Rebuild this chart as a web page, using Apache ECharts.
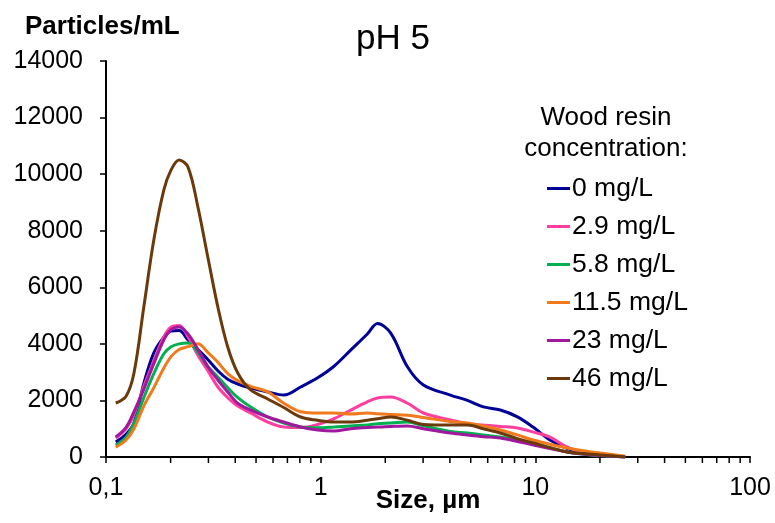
<!DOCTYPE html>
<html>
<head>
<meta charset="utf-8">
<script src="https://cdn.jsdelivr.net/npm/echarts@6/dist/echarts.min.js"></script>
<style>
  html, body { margin: 0; padding: 0; background: #fff; }
  #chart { width: 775px; height: 523px; }
</style>
</head>
<body>
<div id="chart"></div>
<script>
// Particle size distribution, pH 5, for increasing wood resin dosage
const sizes = [0.111, 0.124, 0.135, 0.150, 0.167, 0.186, 0.201, 0.219, 0.241, 0.268,
  0.298, 0.332, 0.369, 0.411, 0.472, 0.567, 0.673, 0.807, 0.968, 1.15,
  1.38, 1.65, 1.84, 2.12, 2.54, 3.01, 4.02, 4.83, 5.73, 6.87,
  8.25, 9.79, 11.7, 14.1, 16.7, 20.1, 26.2];

const conc0 = [530, 800, 1200, 2600, 3680, 4240, 4450, 4470, 4140, 3800,
  3450, 3050, 2750, 2580, 2440, 2300, 2190, 2475, 2800, 3200,
  3780, 4350, 4720, 4380, 3180, 2545, 2190, 2000, 1770, 1660,
  1420, 1050, 600, 300, 150, 60, 0];
const conc2_9 = [670, 1000, 1500, 2500, 3400, 4250, 4600, 4650, 4250, 3600,
  3050, 2475, 2100, 1800, 1555, 1237, 1060, 1040, 1150, 1350,
  1660, 1950, 2085, 2120, 1900, 1555, 1310, 1180, 1130, 1080,
  1025, 880, 700, 350, 177, 70, 0];
const conc5_8 = [420, 700, 1200, 2100, 2950, 3650, 3900, 4000, 4030, 3700,
  3200, 2830, 2450, 2100, 1770, 1414, 1200, 1060, 1030, 1060,
  1100, 1130, 1180, 1200, 1237, 1100, 900, 850, 780, 707,
  600, 495, 330, 177, 100, 40, 0];
const conc11_5 = [350, 600, 1000, 1800, 2450, 3150, 3550, 3800, 3900, 4000,
  3700, 3350, 2950, 2700, 2500, 2300, 1900, 1600, 1555, 1555,
  1520, 1555, 1530, 1500, 1480, 1400, 1250, 1200, 1100, 955,
  780, 600, 450, 318, 220, 140, 30];
const conc23 = [707, 1050, 1600, 2400, 3300, 4140, 4500, 4600, 4350, 3800,
  3200, 2720, 2300, 1900, 1660, 1414, 1237, 1060, 955, 920,
  1000, 1040, 1060, 1080, 1095, 1000, 850, 780, 720, 670,
  550, 424, 300, 177, 106, 50, 0];
const conc46 = [1909, 2150, 2970, 5300, 7670, 9440, 10150, 10500, 10250, 8840,
  7070, 5300, 3890, 2970, 2370, 2050, 1750, 1414, 1300, 1237,
  1237, 1300, 1350, 1414, 1300, 1150, 1130, 1130, 1000, 850,
  650, 495, 330, 177, 120, 70, 0];

const seriesNames = ['0 mg/L', '2.9 mg/L', '5.8 mg/L', '11.5 mg/L', '23 mg/L', '46 mg/L'];
const seriesValues = [conc0, conc2_9, conc5_8, conc11_5, conc23, conc46];
const seriesColors = ['#000099', '#ff3f9f', '#00b050', '#f27a1c', '#a0189e', '#6b3a0c'];

// minor ticks of the logarithmic size axis (2..9 of each decade)
const minorTicks = [0.2, 0.3, 0.4, 0.5, 0.6, 0.7, 0.8, 0.9,
  2, 3, 4, 5, 6, 7, 8, 9, 20, 30, 40, 50, 60, 70, 80, 90];

const FONT = '"Liberation Sans", Arial, sans-serif';

const chart = echarts.init(document.getElementById('chart'), null, { renderer: 'canvas' });

const lineSeries = seriesNames.map((name, i) => ({
  name: name,
  type: 'line',
  data: sizes.map((s, k) => [s, seriesValues[i][k]]),
  smooth: 0.35,
  showSymbol: false,
  lineStyle: { width: 3, color: seriesColors[i] },
  itemStyle: { color: seriesColors[i] },
  z: 3 + i
}));

const option = {
  animation: false,
  backgroundColor: '#fff',
  textStyle: { fontFamily: FONT },
  title: [
    {
      text: 'pH 5', left: 393, top: 22, padding: 0, textAlign: 'center',
      textStyle: { fontFamily: FONT, fontSize: 35, fontWeight: 'normal', color: '#000', lineHeight: 35 }
    },
    {
      text: 'Particles/mL', left: 25, top: 14, padding: 0,
      textStyle: { fontFamily: FONT, fontSize: 26, fontWeight: 'bold', color: '#000', lineHeight: 26 }
    },
    {
      text: 'Wood resin\nconcentration:', left: 606, top: 102, padding: 0, textAlign: 'center',
      textStyle: { fontFamily: FONT, fontSize: 26, fontWeight: 'normal', color: '#000', lineHeight: 31 }
    }
  ],
  legend: {
    data: seriesNames,
    orient: 'vertical',
    left: 547,
    top: 175,
    padding: 0,
    itemWidth: 23,
    itemHeight: 3,
    itemGap: 11,
    icon: 'rect',
    textStyle: { fontFamily: FONT, fontSize: 26.5, color: '#000', lineHeight: 26.5, padding: [0, 0, 0, -3] }
  },
  grid: { left: 106, right: 25, top: 61, bottom: 66, containLabel: false, outerBoundsMode: 'none' },
  xAxis: {
    type: 'log',
    logBase: 10,
    min: 0.1,
    max: 100,
    name: 'Size, µm',
    nameLocation: 'middle',
    nameGap: 31,
    nameMoveOverlap: false,
    nameTextStyle: { fontFamily: FONT, fontSize: 26, fontWeight: 'bold', color: '#000' },
    axisLine: { show: true, onZero: false, lineStyle: { color: '#000', width: 2 } },
    axisTick: { show: true, inside: false, length: 6, lineStyle: { color: '#000', width: 1.5 } },
    axisLabel: {
      fontFamily: FONT, fontSize: 25, color: '#000', margin: 19,
      formatter: v => String(+v.toPrecision(6)).replace('.', ',')
    },
    splitLine: { show: false }
  },
  yAxis: {
    type: 'value',
    min: 0,
    max: 14000,
    interval: 2000,
    axisLine: { show: true, lineStyle: { color: '#000', width: 2 } },
    axisTick: { show: true, inside: false, length: 6, lineStyle: { color: '#000', width: 1.5 } },
    axisLabel: { fontFamily: FONT, fontSize: 25, color: '#000', margin: 23, formatter: v => String(v) },
    splitLine: { show: false }
  },
  series: [
    {
      name: 'minor-ticks',
      type: 'custom',
      clip: false,
      silent: true,
      data: minorTicks.map(v => [v, 0]),
      renderItem: function (params, api) {
        const p = api.coord([api.value(0), 0]);
        return {
          type: 'line',
          shape: { x1: p[0], y1: p[1], x2: p[0], y2: p[1] + 6 },
          style: { stroke: '#000', lineWidth: 1.5 }
        };
      },
      z: 10
    }
  ].concat(lineSeries)
};

chart.setOption(option);
</script>
</body>
</html>
